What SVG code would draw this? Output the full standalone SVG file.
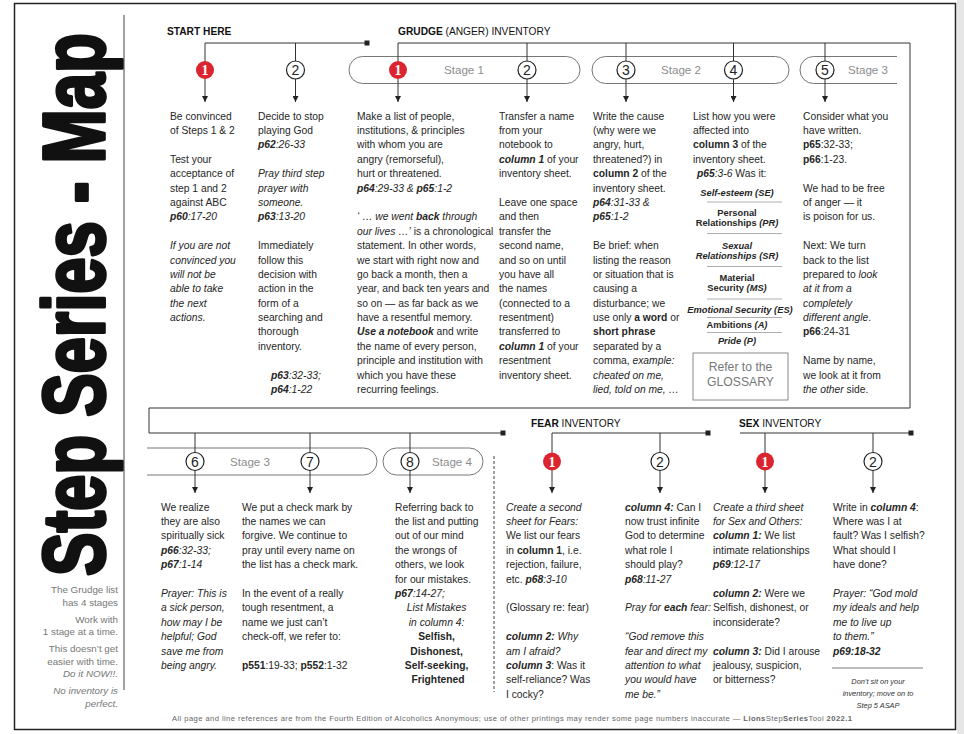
<svg xmlns="http://www.w3.org/2000/svg" width="964" height="734" viewBox="0 0 964 734">
<defs>
<style>
.t{font-family:"Liberation Sans",Arial,sans-serif;font-size:10.3px;fill:#262626}
.b{font-weight:bold}
.i{font-style:italic}
.bi{font-weight:bold;font-style:italic}
.hd{font-family:"Liberation Sans",Arial,sans-serif;font-size:10.2px;fill:#111}
.stg{font-family:"Liberation Sans",Arial,sans-serif;font-size:11.6px;fill:#8c8c8c;text-anchor:middle}
.pill{fill:none;stroke:#777;stroke-width:1}
.cw{fill:#fff;stroke:#222;stroke-width:1.2}
.cr{fill:#dc2430}
.dn{font-family:"Liberation Sans",Arial,sans-serif;font-size:14px;fill:#222;text-anchor:middle}
.dr{font-family:"Liberation Serif",serif;font-weight:bold;font-size:14px;fill:#fff;text-anchor:middle}
.con{fill:none;stroke:#333;stroke-width:1}
.arr{fill:none;stroke:#333;stroke-width:1;marker-end:url(#ar)}
.note{font-family:"Liberation Sans",Arial,sans-serif;font-size:9.8px;fill:#777;text-anchor:end}
.cat{font-family:"Liberation Sans",Arial,sans-serif;font-size:9.3px;fill:#262626;text-anchor:middle;font-weight:bold}
.sep{stroke:#9a9a9a;stroke-width:0.8}
.sq{fill:#222}
.small{font-family:"Liberation Sans",Arial,sans-serif;font-size:7.4px;fill:#333;font-style:italic;text-anchor:middle}
</style>
<marker id="ar" viewBox="0 0 10 10" refX="10" refY="5" markerWidth="6" markerHeight="6" markerUnits="userSpaceOnUse" orient="auto"><path d="M0,0 L10,5 L0,10 z" fill="#222"/></marker>
</defs>
<rect x="0" y="0" width="964" height="734" fill="#fff"/>
<rect x="957" y="0" width="7" height="734" fill="#e6e6e6"/>
<rect x="14.5" y="3.5" width="941" height="726" fill="none" stroke="#222" stroke-width="1.5"/>

<g id="title">
<text transform="translate(104,576) rotate(-90) scale(0.814,1.082)" font-family="'Liberation Sans',Arial,sans-serif" font-weight="bold" font-size="80" fill="#111" stroke="#111" stroke-width="3.4" stroke-linejoin="round">Step Series - Map</text>
<line x1="124" y1="15" x2="124" y2="690" stroke="#444" stroke-width="1"/>
</g>

<g id="side-notes">
<text class="note" x="118" y="593">The Grudge list</text>
<text class="note" x="118" y="605.5">has 4 stages</text>
<text class="note" x="118" y="622.5">Work with</text>
<text class="note" x="118" y="635">1 stage at a time.</text>
<text class="note" x="118" y="652">This doesn’t get</text>
<text class="note" x="118" y="664.5">easier with time.</text>
<text class="note i" x="118" y="677">Do it NOW!!.</text>
<text class="note i" x="118" y="694">No inventory is</text>
<text class="note i" x="118" y="706.5">perfect.</text>
</g>

<g id="headers">
<text class="hd b" x="167" y="35.3">START HERE</text>
<text class="hd" x="398" y="35.3"><tspan class="b">GRUDGE</tspan> (ANGER) INVENTORY</text>
<text class="hd" x="531" y="427"><tspan class="b">FEAR</tspan> INVENTORY</text>
<text class="hd" x="739" y="427"><tspan class="b">SEX</tspan> INVENTORY</text>
</g>

<g id="stages">
<rect class="pill" x="349" y="56.5" width="231" height="27" rx="13.5"/>
<text class="stg" x="464" y="74.2">Stage 1</text>
<rect class="pill" x="592" y="56.5" width="197" height="27" rx="13.5"/>
<text class="stg" x="681" y="74.2">Stage 2</text>
<path class="pill" d="M897,56.5 H813.5 A13.5,13.5 0 0 0 813.5,83.5 H897"/>
<text class="stg" x="868" y="74.2">Stage 3</text>
<path class="pill" d="M147,448 H363.5 A13.5,13.5 0 0 1 363.5,475 H147"/>
<text class="stg" x="250" y="465.7">Stage 3</text>
<rect class="pill" x="383" y="448" width="100" height="27" rx="13.5"/>
<text class="stg" x="452" y="465.7">Stage 4</text>
</g>

<g id="connectors">
<path class="con" d="M205,43 H367"/>
<rect class="sq" x="364.5" y="40.5" width="5" height="5"/>
<path class="con" d="M398,43 H910 V408 H149 V433 H503"/>
<rect class="sq" x="500.5" y="430.5" width="5" height="5"/>
<path class="con" d="M552,433 H708"/>
<rect class="sq" x="705.5" y="430.5" width="5" height="5"/>
<path class="con" d="M740,433 H911"/>
<rect class="sq" x="908.5" y="430.5" width="5" height="5"/>
<path class="arr" d="M205,43 V102"/>
<path class="arr" d="M295.5,43 V102"/>
<path class="arr" d="M398,43 V102"/>
<path class="arr" d="M527,43 V102"/>
<path class="arr" d="M626,43 V102"/>
<path class="arr" d="M733.5,43 V102"/>
<path class="arr" d="M825,43 V102"/>
<path class="arr" d="M195,433 V493"/>
<path class="arr" d="M310,433 V493"/>
<path class="arr" d="M410,433 V493"/>
<path class="arr" d="M552,433 V493"/>
<path class="arr" d="M660,433 V493"/>
<path class="arr" d="M765,433 V493"/>
<path class="arr" d="M873,433 V493"/>
</g>

<line x1="494" y1="456" x2="494" y2="692" stroke="#8a8a8a" stroke-width="1.6" stroke-dasharray="3 2"/>

<g id="n-start-1">
<circle class="cr" cx="205" cy="70" r="9"/><text class="dr" x="205" y="75">1</text>
<text class="t" y="119.5">
<tspan x="170" dy="0">Be convinced</tspan>
<tspan x="170" dy="14.4">of Steps 1 &amp; 2</tspan>
<tspan x="170" dy="28.8">Test your</tspan>
<tspan x="170" dy="14.4">acceptance of</tspan>
<tspan x="170" dy="14.4">step 1 and 2</tspan>
<tspan x="170" dy="14.4">against ABC</tspan>
<tspan x="170" dy="14.4"><tspan class="bi">p60</tspan><tspan class="i">:17-20</tspan></tspan>
<tspan x="170" dy="28.8" class="i">If you are not</tspan>
<tspan x="170" dy="14.4" class="i">convinced you</tspan>
<tspan x="170" dy="14.4" class="i">will not be</tspan>
<tspan x="170" dy="14.4" class="i">able to take</tspan>
<tspan x="170" dy="14.4" class="i">the next</tspan>
<tspan x="170" dy="14.4" class="i">actions.</tspan>
</text>
</g>

<g id="n-start-2">
<circle class="cw" cx="295.5" cy="70" r="9"/><text class="dn" x="295.5" y="75">2</text>
<text class="t" y="119.5">
<tspan x="258" dy="0">Decide to stop</tspan>
<tspan x="258" dy="14.4">playing God</tspan>
<tspan x="258" dy="14.4"><tspan class="bi">p62</tspan><tspan class="i">:26-33</tspan></tspan>
<tspan x="258" dy="28.8" class="i">Pray third step</tspan>
<tspan x="258" dy="14.4" class="i">prayer with</tspan>
<tspan x="258" dy="14.4" class="i">someone.</tspan>
<tspan x="258" dy="14.4"><tspan class="bi">p63</tspan><tspan class="i">:13-20</tspan></tspan>
<tspan x="258" dy="28.8">Immediately</tspan>
<tspan x="258" dy="14.4">follow this</tspan>
<tspan x="258" dy="14.4">decision with</tspan>
<tspan x="258" dy="14.4">action in the</tspan>
<tspan x="258" dy="14.4">form of a</tspan>
<tspan x="258" dy="14.4">searching and</tspan>
<tspan x="258" dy="14.4">thorough</tspan>
<tspan x="258" dy="14.4">inventory.</tspan>
<tspan x="271" dy="28.8"><tspan class="bi">p63</tspan><tspan class="i">:32-33;</tspan></tspan>
<tspan x="271" dy="14.4"><tspan class="bi">p64</tspan><tspan class="i">:1-22</tspan></tspan>
</text>
</g>

<g id="n-grudge-1">
<circle class="cr" cx="398" cy="70" r="9"/><text class="dr" x="398" y="75">1</text>
<text class="t" y="119.5">
<tspan x="357" dy="0">Make a list of people,</tspan>
<tspan x="357" dy="14.4">institutions, &amp; principles</tspan>
<tspan x="357" dy="14.4">with whom you are</tspan>
<tspan x="357" dy="14.4">angry (remorseful),</tspan>
<tspan x="357" dy="14.4">hurt or threatened.</tspan>
<tspan x="357" dy="14.4"><tspan class="bi">p64</tspan><tspan class="i">:29-33 &amp; </tspan><tspan class="bi">p65</tspan><tspan class="i">:1-2</tspan></tspan>
<tspan x="357" dy="28.8"><tspan class="i">‘ … we went </tspan><tspan class="bi">back</tspan><tspan class="i"> through</tspan></tspan>
<tspan x="357" dy="14.4"><tspan class="i">our lives …’</tspan> is a chronological</tspan>
<tspan x="357" dy="14.4">statement.  In other words,</tspan>
<tspan x="357" dy="14.4">we start with right now and</tspan>
<tspan x="357" dy="14.4">go back a month, then a</tspan>
<tspan x="357" dy="14.4">year, and back ten years and</tspan>
<tspan x="357" dy="14.4">so on — as far back as we</tspan>
<tspan x="357" dy="14.4">have a resentful memory.</tspan>
<tspan x="357" dy="14.4"><tspan class="bi">Use a notebook</tspan> and write</tspan>
<tspan x="357" dy="14.4">the name of  every person,</tspan>
<tspan x="357" dy="14.4">principle and institution with</tspan>
<tspan x="357" dy="14.4">which you have these</tspan>
<tspan x="357" dy="14.4">recurring feelings.</tspan>
</text>
</g>

<g id="n-grudge-2">
<circle class="cw" cx="527" cy="70" r="9"/><text class="dn" x="527" y="75">2</text>
<text class="t" y="119.5">
<tspan x="499" dy="0">Transfer a name</tspan>
<tspan x="499" dy="14.4">from your</tspan>
<tspan x="499" dy="14.4">notebook to</tspan>
<tspan x="499" dy="14.4"><tspan class="bi">column 1</tspan> of your</tspan>
<tspan x="499" dy="14.4">inventory sheet.</tspan>
<tspan x="499" dy="28.8">Leave one space</tspan>
<tspan x="499" dy="14.4">and then</tspan>
<tspan x="499" dy="14.4">transfer the</tspan>
<tspan x="499" dy="14.4">second name,</tspan>
<tspan x="499" dy="14.4">and so on until</tspan>
<tspan x="499" dy="14.4">you have all</tspan>
<tspan x="499" dy="14.4">the names</tspan>
<tspan x="499" dy="14.4">(connected to a</tspan>
<tspan x="499" dy="14.4">resentment)</tspan>
<tspan x="499" dy="14.4">transferred to</tspan>
<tspan x="499" dy="14.4"><tspan class="bi">column 1</tspan> of your</tspan>
<tspan x="499" dy="14.4">resentment</tspan>
<tspan x="499" dy="14.4">inventory sheet.</tspan>
</text>
</g>

<g id="n-grudge-3">
<circle class="cw" cx="626" cy="70" r="9"/><text class="dn" x="626" y="75">3</text>
<text class="t" y="119.5">
<tspan x="593" dy="0">Write the cause</tspan>
<tspan x="593" dy="14.4">(why were we</tspan>
<tspan x="593" dy="14.4">angry, hurt,</tspan>
<tspan x="593" dy="14.4">threatened?) in</tspan>
<tspan x="593" dy="14.4"><tspan class="b">column 2</tspan> of the</tspan>
<tspan x="593" dy="14.4">inventory sheet.</tspan>
<tspan x="593" dy="14.4"><tspan class="bi">p64</tspan><tspan class="i">:31-33 &amp;</tspan></tspan>
<tspan x="593" dy="14.4"><tspan class="bi">p65</tspan><tspan class="i">:1-2</tspan></tspan>
<tspan x="593" dy="28.8">Be brief: when</tspan>
<tspan x="593" dy="14.4">listing the reason</tspan>
<tspan x="593" dy="14.4">or situation that is</tspan>
<tspan x="593" dy="14.4">causing a</tspan>
<tspan x="593" dy="14.4">disturbance; we</tspan>
<tspan x="593" dy="14.4">use only <tspan class="b">a word</tspan> or</tspan>
<tspan x="593" dy="14.4" class="b">short phrase</tspan>
<tspan x="593" dy="14.4">separated by a</tspan>
<tspan x="593" dy="14.4">comma, <tspan class="i">example:</tspan></tspan>
<tspan x="593" dy="14.4" class="i">cheated on me,</tspan>
<tspan x="593" dy="14.4" class="i">lied, told on me, …</tspan>
</text>
</g>

<g id="n-grudge-4">
<circle class="cw" cx="733.5" cy="70" r="9"/><text class="dn" x="733.5" y="75">4</text>
<text class="t" y="119.5">
<tspan x="693" dy="0">List how you were</tspan>
<tspan x="693" dy="14.4">affected into</tspan>
<tspan x="693" dy="14.4"><tspan class="b">column 3</tspan> of the</tspan>
<tspan x="693" dy="14.4">inventory sheet.</tspan>
<tspan x="697" dy="14.4"><tspan class="bi">p65</tspan><tspan class="i">:3-6</tspan>  Was it:</tspan>
</text>
<text class="cat i" x="737" y="196">Self-esteem (SE)</text>
<line class="sep" x1="707" y1="202" x2="782" y2="202"/>
<text class="cat" x="737" y="216">Personal</text>
<text class="cat" x="737" y="226">Relationships <tspan class="i">(PR)</tspan></text>
<line class="sep" x1="707" y1="233.5" x2="782" y2="233.5"/>
<text class="cat i" x="737" y="248.5">Sexual</text>
<text class="cat i" x="737" y="259">Relationships (SR)</text>
<line class="sep" x1="707" y1="266.5" x2="782" y2="266.5"/>
<text class="cat" x="737" y="280.5">Material</text>
<text class="cat" x="737" y="291">Security <tspan class="i">(MS)</tspan></text>
<line class="sep" x1="707" y1="299" x2="782" y2="299"/>
<text class="cat i" x="740" y="312.5">Emotional Security (ES)</text>
<line class="sep" x1="707" y1="317.5" x2="782" y2="317.5"/>
<text class="cat" x="737" y="327.5">Ambitions <tspan class="i">(A)</tspan></text>
<line class="sep" x1="707" y1="332.5" x2="782" y2="332.5"/>
<text class="cat i" x="737" y="344">Pride (P)</text>
<rect x="693" y="353" width="95" height="47" fill="none" stroke="#8a8a8a" stroke-width="1"/>
<text x="740.5" y="371" font-family="Liberation Sans, Arial, sans-serif" font-size="12.2" fill="#777" text-anchor="middle">Refer to the</text>
<text x="740.5" y="386" font-family="Liberation Sans, Arial, sans-serif" font-size="12.2" fill="#777" text-anchor="middle">GLOSSARY</text>
</g>

<g id="n-grudge-5">
<circle class="cw" cx="825" cy="70" r="9"/><text class="dn" x="825" y="75">5</text>
<text class="t" y="119.5">
<tspan x="803" dy="0">Consider what you</tspan>
<tspan x="803" dy="14.4">have written.</tspan>
<tspan x="803" dy="14.4"><tspan class="b">p65</tspan>:32-33;</tspan>
<tspan x="803" dy="14.4"><tspan class="b">p66</tspan>:1-23.</tspan>
<tspan x="803" dy="28.8">We had to be free</tspan>
<tspan x="803" dy="14.4">of anger — it</tspan>
<tspan x="803" dy="14.4">is poison for us.</tspan>
<tspan x="803" dy="28.8">Next: We turn</tspan>
<tspan x="803" dy="14.4">back to the list</tspan>
<tspan x="803" dy="14.4">prepared to <tspan class="i">look</tspan></tspan>
<tspan x="803" dy="14.4" class="i">at it from a</tspan>
<tspan x="803" dy="14.4" class="i">completely</tspan>
<tspan x="803" dy="14.4"><tspan class="i">different angle</tspan>.</tspan>
<tspan x="803" dy="14.4"><tspan class="b">p66</tspan>:24-31</tspan>
<tspan x="803" dy="28.8">Name by name,</tspan>
<tspan x="803" dy="14.4">we look at it from</tspan>
<tspan x="803" dy="14.4"><tspan class="i">the other</tspan> side.</tspan>
</text>
</g>

<g id="n-grudge-6">
<circle class="cw" cx="195" cy="461.5" r="9"/><text class="dn" x="195" y="466.5">6</text>
<text class="t" y="510.5">
<tspan x="161" dy="0">We realize</tspan>
<tspan x="161" dy="14.4">they are also</tspan>
<tspan x="161" dy="14.4">spiritually sick</tspan>
<tspan x="161" dy="14.4"><tspan class="bi">p66</tspan><tspan class="i">:32-33;</tspan></tspan>
<tspan x="161" dy="14.4"><tspan class="bi">p67</tspan><tspan class="i">:1-14</tspan></tspan>
<tspan x="161" dy="28.8" class="i">Prayer: This is</tspan>
<tspan x="161" dy="14.4" class="i">a sick person,</tspan>
<tspan x="161" dy="14.4" class="i">how may I be</tspan>
<tspan x="161" dy="14.4" class="i">helpful; God</tspan>
<tspan x="161" dy="14.4" class="i">save me from</tspan>
<tspan x="161" dy="14.4" class="i">being angry.</tspan>
</text>
</g>

<g id="n-grudge-7">
<circle class="cw" cx="310" cy="461.5" r="9"/><text class="dn" x="310" y="466.5">7</text>
<text class="t" y="510.5">
<tspan x="242" dy="0">We put a check mark by</tspan>
<tspan x="242" dy="14.4">the names we can</tspan>
<tspan x="242" dy="14.4">forgive.  We continue to</tspan>
<tspan x="242" dy="14.4">pray until every name on</tspan>
<tspan x="242" dy="14.4">the list has a check mark.</tspan>
<tspan x="242" dy="28.8">In the event of a really</tspan>
<tspan x="242" dy="14.4">tough resentment, a</tspan>
<tspan x="242" dy="14.4">name we just can’t</tspan>
<tspan x="242" dy="14.4">check-off, we refer to:</tspan>
<tspan x="242" dy="28.8"><tspan class="b">p551</tspan>:19-33; <tspan class="b">p552</tspan>:1-32</tspan>
</text>
</g>

<g id="n-grudge-8">
<circle class="cw" cx="410" cy="461.5" r="9"/><text class="dn" x="410" y="466.5">8</text>
<text class="t" y="510.5">
<tspan x="395" dy="0">Referring back to</tspan>
<tspan x="395" dy="14.4">the list and putting</tspan>
<tspan x="395" dy="14.4">out of our mind</tspan>
<tspan x="395" dy="14.4">the wrongs of</tspan>
<tspan x="395" dy="14.4">others, we look</tspan>
<tspan x="395" dy="14.4">for our mistakes.</tspan>
<tspan x="395" dy="14.4"><tspan class="bi">p67</tspan><tspan class="i">:14-27;</tspan></tspan>
</text>
<text class="t" y="611.3" text-anchor="middle">
<tspan x="438" dy="0" class="i">List Mistakes</tspan>
<tspan x="438" dy="14.4" class="i">in column 4:</tspan>
<tspan x="438" dy="14.4" class="b">Selfish,</tspan>
<tspan x="438" dy="14.4" class="b">Dishonest,</tspan>
<tspan x="438" dy="14.4" class="b">Self-seeking,</tspan>
<tspan x="438" dy="14.4" class="b">Frightened</tspan>
</text>
</g>

<g id="n-fear-1">
<circle class="cr" cx="552" cy="461.5" r="9"/><text class="dr" x="552" y="466.5">1</text>
<text class="t" y="510.5">
<tspan x="506" dy="0" class="i">Create a second</tspan>
<tspan x="506" dy="14.4" class="i">sheet for Fears:</tspan>
<tspan x="506" dy="14.4">We list our fears</tspan>
<tspan x="506" dy="14.4">in <tspan class="b">column 1</tspan>, i.e.</tspan>
<tspan x="506" dy="14.4">rejection, failure,</tspan>
<tspan x="506" dy="14.4">etc.  <tspan class="bi">p68</tspan><tspan class="i">:3-10</tspan></tspan>
<tspan x="506" dy="28.8">(Glossary re: fear)</tspan>
<tspan x="506" dy="28.8"><tspan class="bi">column 2:</tspan><tspan class="i"> Why</tspan></tspan>
<tspan x="506" dy="14.4" class="i">am I afraid?</tspan>
<tspan x="506" dy="14.4"><tspan class="bi">column 3</tspan>: Was it</tspan>
<tspan x="506" dy="14.4">self-reliance? Was</tspan>
<tspan x="506" dy="14.4">I cocky?</tspan>
</text>
</g>

<g id="n-fear-2">
<circle class="cw" cx="660" cy="461.5" r="9"/><text class="dn" x="660" y="466.5">2</text>
<text class="t" y="510.5">
<tspan x="625" dy="0"><tspan class="bi">column 4:</tspan>  Can I</tspan>
<tspan x="625" dy="14.4">now trust infinite</tspan>
<tspan x="625" dy="14.4">God to determine</tspan>
<tspan x="625" dy="14.4">what role I</tspan>
<tspan x="625" dy="14.4">should play?</tspan>
<tspan x="625" dy="14.4"><tspan class="bi">p68</tspan><tspan class="i">:11-27</tspan></tspan>
<tspan x="625" dy="28.8" class="i">Pray for <tspan class="bi">each</tspan> fear:</tspan>
<tspan x="625" dy="28.8" class="i">“God remove this</tspan>
<tspan x="625" dy="14.4" class="i">fear and direct my</tspan>
<tspan x="625" dy="14.4" class="i">attention to what</tspan>
<tspan x="625" dy="14.4" class="i">you would have</tspan>
<tspan x="625" dy="14.4" class="i">me be.”</tspan>
</text>
</g>

<g id="n-sex-1">
<circle class="cr" cx="765" cy="461.5" r="9"/><text class="dr" x="765" y="466.5">1</text>
<text class="t" y="510.5">
<tspan x="713" dy="0" class="i">Create a third sheet</tspan>
<tspan x="713" dy="14.4" class="i">for Sex and Others:</tspan>
<tspan x="713" dy="14.4"><tspan class="bi">column 1:</tspan> We list</tspan>
<tspan x="713" dy="14.4">intimate relationships</tspan>
<tspan x="713" dy="14.4"><tspan class="bi">p69</tspan><tspan class="i">:12-17</tspan></tspan>
<tspan x="713" dy="28.8"><tspan class="bi">column 2:</tspan> Were we</tspan>
<tspan x="713" dy="14.4">Selfish, dishonest, or</tspan>
<tspan x="713" dy="14.4">inconsiderate?</tspan>
<tspan x="713" dy="28.8"><tspan class="bi">column 3:</tspan>  Did I arouse</tspan>
<tspan x="713" dy="14.4">jealousy, suspicion,</tspan>
<tspan x="713" dy="14.4">or bitterness?</tspan>
</text>
</g>

<g id="n-sex-2">
<circle class="cw" cx="873" cy="461.5" r="9"/><text class="dn" x="873" y="466.5">2</text>
<text class="t" y="510.5">
<tspan x="833" dy="0">Write in <tspan class="bi">column 4</tspan>:</tspan>
<tspan x="833" dy="14.4">Where was I at</tspan>
<tspan x="833" dy="14.4">fault? Was I selfish?</tspan>
<tspan x="833" dy="14.4">What should I</tspan>
<tspan x="833" dy="14.4">have done?</tspan>
<tspan x="833" dy="28.8" class="i">Prayer: “God mold</tspan>
<tspan x="833" dy="14.4" class="i">my ideals and help</tspan>
<tspan x="833" dy="14.4" class="i">me to live up</tspan>
<tspan x="833" dy="14.4" class="i">to them.”</tspan>
<tspan x="833" dy="14.4" class="bi">p69:18-32</tspan>
</text>
<line x1="832" y1="668" x2="923" y2="668" stroke="#555" stroke-width="0.8"/>
<text class="small" x="878" y="684">Don’t sit on your</text>
<text class="small" x="878" y="696">inventory; move on to</text>
<text class="small" x="878" y="708">Step 5 ASAP</text>
</g>

<g id="footer">
<text x="172" y="720.5" font-family="Liberation Sans, Arial, sans-serif" font-size="7.6" fill="#666" textLength="680" lengthAdjust="spacing">All page and line references are from the Fourth Edition of Alcoholics Anonymous; use of other printings may render some page numbers inaccurate — <tspan font-weight="bold">Lions</tspan>Step<tspan font-weight="bold">Series</tspan>Tool <tspan font-weight="bold">2022.1</tspan></text>
</g>
</svg>
